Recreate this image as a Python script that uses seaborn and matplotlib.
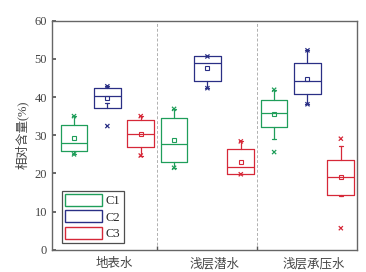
import numpy as np
import pandas as pd
import matplotlib
matplotlib.use("Agg")
import matplotlib.pyplot as plt
import seaborn as sns
from matplotlib.patches import Patch

# --- dados ---
grupos = ["地表水", "浅层潜水", "浅层承压水"]
series = ["C1", "C2", "C3"]
cores = ["#1f9e5a", "#2a2f85", "#d62838"]

# ordem: (地表水 C1, C2, C3), (浅层潜水 C1, C2, C3), (浅层承压水 C1, C2, C3)
q1 = [25.9, 37.1, 26.9, 22.9, 44.3, 19.8, 32.1, 40.8, 14.5]
mediana = [28.0, 40.2, 30.4, 27.8, 49.0, 21.7, 35.9, 44.3, 19.0]
q3 = [32.6, 42.4, 33.9, 34.5, 50.8, 26.5, 39.1, 49.0, 23.4]
media = [29.3, 39.7, 30.4, 28.7, 47.6, 23.1, 35.6, 44.8, 19.0]
whis_baixo = [25.0, 38.4, 24.7, 21.5, 42.3, 19.8, 29.0, 38.1, 14.2]
whis_alto = [35.0, 42.8, 35.0, 36.9, 50.8, 28.4, 41.9, 52.2, 27.2]
minimo = [25.0, 32.4, 24.7, 21.5, 42.3, 19.8, 25.6, 38.1, 5.7]
maximo = [35.0, 42.8, 35.0, 36.9, 50.6, 28.4, 41.9, 52.2, 29.1]

sns.set_theme(style="ticks")
plt.rcParams["font.family"] = ["Liberation Serif", "Noto Sans CJK SC"]

fig = plt.figure(figsize=(3.66, 2.72), dpi=100)
ax = fig.add_axes([0.1434, 0.0809, 0.8316, 0.8437])

posicoes = np.arange(1, 10)
stats = []
for i in range(9):
    stats.append({"q1": q1[i], "med": mediana[i], "q3": q3[i], "mean": media[i],
                  "whislo": whis_baixo[i], "whishi": whis_alto[i], "fliers": []})

for i in range(9):
    c = cores[i % 3]
    ax.bxp([stats[i]], positions=[posicoes[i]], widths=0.8, showmeans=True,
           showfliers=False, capwidths=0.12,
           boxprops=dict(color=c, linewidth=0.9),
           medianprops=dict(color=c, linewidth=0.9),
           whiskerprops=dict(color=c, linewidth=0.9),
           capprops=dict(color=c, linewidth=0.9),
           meanprops=dict(marker="s", markersize=2.6, markerfacecolor="none",
                          markeredgecolor=c, markeredgewidth=0.8))

# min / max com marcador x
df = pd.DataFrame({
    "pos": np.concatenate([posicoes, posicoes]),
    "valor": minimo + maximo,
    "serie": [series[i % 3] for i in range(9)] * 2,
})
sns.scatterplot(data=df, x="pos", y="valor", hue="serie", palette=cores,
                marker="x", s=9, linewidth=0.9, legend=False, ax=ax)

for xv in [3.5, 6.5]:
    ax.axvline(xv, color="#b0b0b0", linestyle=(0, (3, 2)), linewidth=0.7, zorder=0)

ax.set_xlim(0.355, 9.48)
ax.set_ylim(0, 60)
ax.set_yticks([0, 10, 20, 30, 40, 50, 60])
ax.set_xticks([2.2, 5.2, 8.2])
ax.set_xticklabels(grupos, fontsize=9, color="#444444")
ax.set_xticks([3.5, 6.5], minor=True)
ax.tick_params(axis="x", which="major", length=0, pad=6)
ax.tick_params(axis="x", which="minor", direction="in", length=3, color="#555555")
ax.tick_params(axis="y", direction="in", length=3, labelsize=9, colors="#555555",
               labelcolor="#444444", pad=4)
ax.set_xlabel("")
ax.set_ylabel("相对含量(%)", fontsize=9, color="#444444", labelpad=4)
for s in ax.spines.values():
    s.set_color("#666666")
    s.set_linewidth(1.0)

handles = [Patch(facecolor="white", edgecolor=c, linewidth=1.0, label=s)
           for c, s in zip(cores, series)]
leg = ax.legend(handles=handles, loc="lower left", bbox_to_anchor=(0.03, 0.03),
                fontsize=9, frameon=True, fancybox=False, handlelength=3.0,
                handleheight=1.1, handletextpad=0.3, labelspacing=0.25,
                borderpad=0.25, borderaxespad=0)
leg.get_frame().set_edgecolor("#222222")
leg.get_frame().set_linewidth(0.9)

fig.savefig("out.png", dpi=100)
